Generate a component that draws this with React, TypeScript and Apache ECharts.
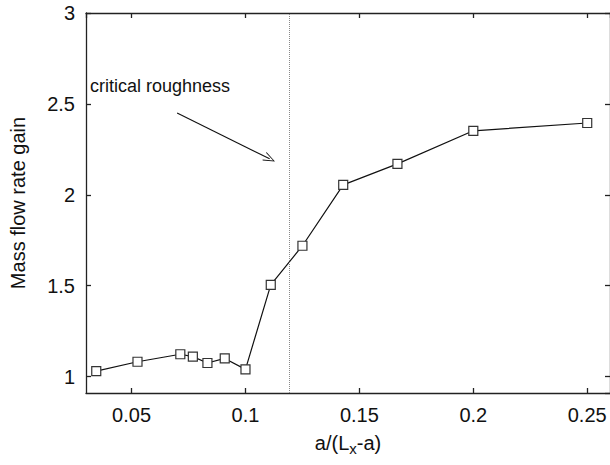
import React, { useEffect, useRef } from "react";
import * as echarts from "echarts";

const xValues = [0.0345, 0.0526, 0.0714, 0.0769, 0.0833, 0.0909, 0.1, 0.1111, 0.125, 0.1429, 0.1667, 0.2, 0.25];
const gainValues = [1.03, 1.082, 1.123, 1.11, 1.075, 1.1, 1.04, 1.505, 1.72, 2.055, 2.17, 2.352, 2.395];
const criticalX = 0.119;
const arrowFrom = [0.07, 2.45];
const arrowTo = [0.1106, 2.198];

const FONT = "'Liberation Sans', Arial, Helvetica, sans-serif";

export default function App() {
  const ref = useRef<HTMLDivElement>(null);
  useEffect(() => {
    if (!ref.current) return;
    const chart = echarts.init(ref.current, null, { renderer: "svg" });
    const data = xValues.map((x, i) => [x, gainValues[i]]);
    const axisLine = { show: true, lineStyle: { color: "#222", width: 1.3 } };
    const axisTick = { show: true, inside: true, length: 5, lineStyle: { color: "#222", width: 1.3 } };
    const labelStyle = { color: "#111", fontSize: 20, fontFamily: FONT };
    chart.setOption({
      animation: false,
      backgroundColor: "#fff",
      grid: { left: 83, top: 13, width: 528, height: 380, containLabel: false },
      xAxis: [
        {
          type: "value",
          min: 0.03,
          max: 0.26,
          position: "bottom",
          axisLine,
          axisTick,
          splitLine: { show: false },
          axisLabel: { ...labelStyle, margin: 12, showMinLabel: false, showMaxLabel: false },
          name: "a/(L{sub|x}-a)",
          nameLocation: "middle",
          nameGap: 36,
          nameTextStyle: {
            ...labelStyle,
            rich: {
              sub: { fontSize: 15, fontFamily: FONT, color: "#111", padding: [12, 0, 0, 0] },
            },
          },
        },
        {
          type: "value",
          min: 0.03,
          max: 0.26,
          position: "top",
          axisLine,
          axisTick,
          splitLine: { show: false },
          axisLabel: { show: false },
        },
      ],
      yAxis: [
        {
          type: "value",
          min: 0.91,
          max: 3,
          position: "left",
          axisLine,
          axisTick,
          splitLine: { show: false },
          axisLabel: { ...labelStyle, margin: 11, showMinLabel: false },
          name: "Mass flow rate gain",
          nameLocation: "middle",
          nameGap: 58,
          nameTextStyle: { ...labelStyle },
        },
        {
          type: "value",
          min: 0.91,
          max: 3,
          position: "right",
          axisLine,
          axisTick,
          splitLine: { show: false },
          axisLabel: { show: false },
        },
      ],
      graphic: [
        {
          type: "text",
          left: 90,
          top: 77,
          style: { text: "critical roughness", fontSize: 18, fontFamily: FONT, fill: "#111" },
        },
      ],
      series: [
        {
          type: "line",
          data,
          xAxisIndex: 0,
          yAxisIndex: 0,
          symbol: "rect",
          symbolSize: 9,
          showAllSymbol: true,
          lineStyle: { color: "#111", width: 1.2 },
          itemStyle: { color: "#fff", borderColor: "#333", borderWidth: 1.2 },
          z: 3,
          markLine: {
            silent: true,
            animation: false,
            label: { show: false },
            data: [
              [
                { coord: [criticalX, 0.91], symbol: "none" },
                { coord: [criticalX, 3], symbol: "none" },
              ],
              [
                { coord: arrowFrom, symbol: "none", lineStyle: { type: "solid", color: "#111", width: 1.1 } },
                {
                  coord: arrowTo,
                  symbol: "path://M0,10 L5,0 L10,10 L9.2,10.4 L5,1.8 L0.8,10.4 Z",
                  symbolSize: [9, 12],
                  lineStyle: { type: "solid", color: "#111", width: 1.1 },
                },
              ],
            ],
            lineStyle: { type: "dotted", color: "#888", width: 1 },
          },
        },
      ],
    });
    return () => chart.dispose();
  }, []);
  return (
    <div
      ref={ref}
      style={{ position: "absolute", left: 0, top: 0, width: 610, height: 465 }}
    />
  );
}
